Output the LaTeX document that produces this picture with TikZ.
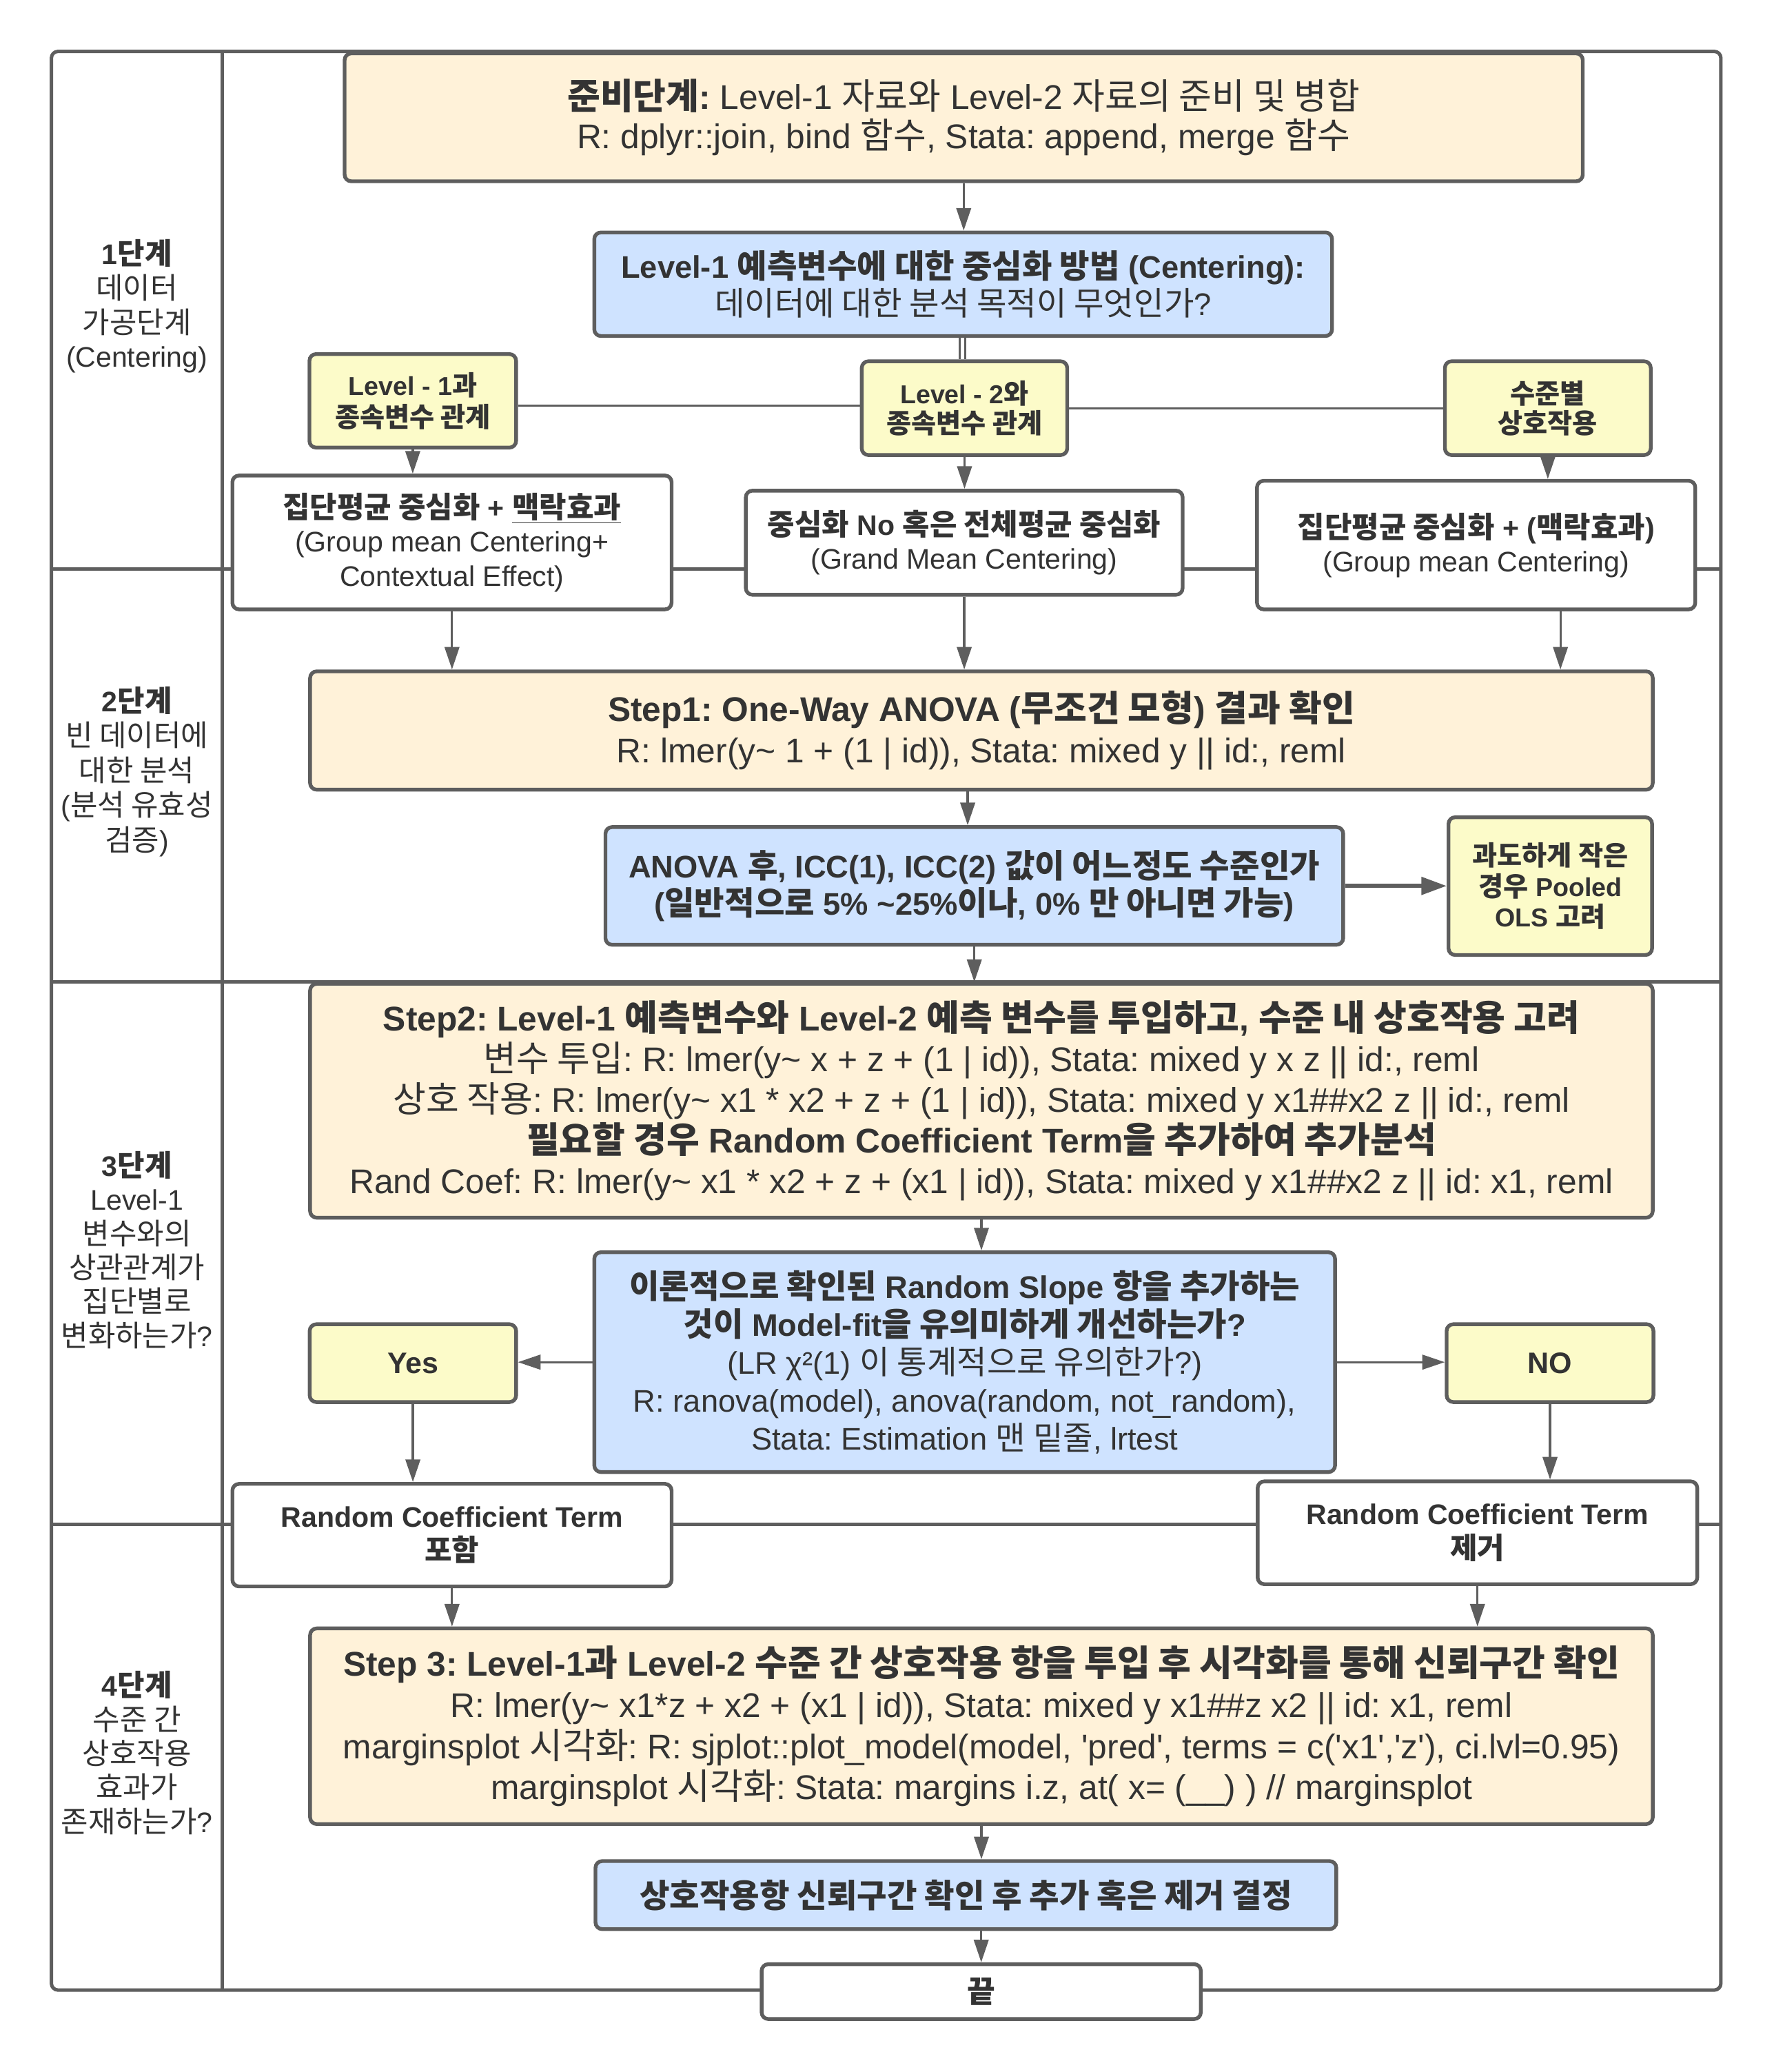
\documentclass[tikz,border=0pt]{standalone}
\usepackage{fontspec}
\setmainfont{Liberation Sans}[Ligatures=TeXOff]
\newfontfamily\krfont{Noto Sans CJK KR}[Scale=1.045]
\usetikzlibrary{arrows.meta}
\newcommand\K[1]{{\krfont #1}}
\definecolor{lc}{HTML}{5E5E5E}
\definecolor{tc}{HTML}{333333}
\definecolor{creamc}{HTML}{FFF2D9}
\definecolor{bluec}{HTML}{CFE3FF}
\definecolor{yelc}{HTML}{FCFBC9}
\tikzset{
  bx/.style={draw=lc, line width=2.8pt, rounded corners=5pt, inner sep=0pt, align=center, text=tc},
  creamb/.style={bx, fill=creamc},
  blueb/.style={bx, fill=bluec},
  yelb/.style={bx, fill=yelc},
  whiteb/.style={bx, fill=white},
  frm/.style={draw=lc, line width=2.6pt},
  conn/.style={draw=lc, line width=1.7pt},
  arr/.style={conn, -{Triangle[length=17pt,width=11pt]}},
  lbl/.style={align=center, text=tc, inner sep=0pt},
}
\newcommand\fbig[1]{\frenchspacing\fontsize{25.8}{#1}\selectfont}
\newcommand\fblu[1]{\frenchspacing\fontsize{23.5}{#1}\selectfont}
\newcommand\fmid[1]{\frenchspacing\fontsize{21.3}{#1}\selectfont}
\newcommand\fsml[1]{\frenchspacing\fontsize{19.5}{#1}\selectfont}
\newcommand\tld{\textasciitilde}
\begin{document}
\begin{tikzpicture}[x=1pt,y=-1pt]
\useasboundingbox (0,0) rectangle (1335.8,1560);
% frame and lanes
\coordinate (ftl) at (38.7,38.7);
\coordinate (fbr) at (1295.8,1498.3);
\draw[frm] (38.7,428.4) -- (1295.8,428.4);
\draw[frm] (38.7,739.1) -- (1295.8,739.1);
\draw[frm] (38.7,1147.7) -- (1295.8,1147.7);
\draw[frm] (167.5,38.7) -- (167.5,1498.3);
\draw[frm, rounded corners=5pt] (ftl) rectangle (fbr);
% lane labels
\node[lbl, font=\fmid{25.8}] (r1) at (103.1,230.6) {\textbf{1\K{단계}}\\\K{데이터}\\\K{가공단계}\\(Centering)};
\node[lbl, font=\fmid{26.2}] (r2) at (103.1,580.9) {\textbf{2\K{단계}}\\\K{빈 데이터에}\\\K{대한 분석}\\(\K{분석 유효성}\\\K{검증})};
\node[lbl, font=\fmid{25.6}] (r3) at (103.1,941) {\textbf{3\K{단계}}\\Level-1\\\K{변수와의}\\\K{상관관계가}\\\K{집단별로}\\\K{변화하는가}?};
\node[lbl, font=\fmid{25.6}] (r4) at (103.1,1319.8) {\textbf{4\K{단계}}\\\K{수준 간}\\\K{상호작용}\\\K{효과가}\\\K{존재하는가}?};
% boxes
\node[creamb, minimum width=932.3pt, minimum height=96.3pt, font=\fbig{30}] (prep) at (725.65,88.35) {\textbf{\K{준비단계}:} Level-1 \K{자료와} Level-2 \K{자료의 준비 및 병합}\\R: dplyr::join, bind \K{함수}, Stata: append, merge \K{함수}};
\node[blueb, minimum width=555.5pt, minimum height=78pt, font=\fblu{28.4}] (b1) at (725.25,214) {\textbf{Level-1 \K{예측변수에 대한 중심화 방법} (Centering):}\\\K{데이터에 대한 분석 목적이 무엇인가}?};
\node[yelb, minimum width=155.6pt, minimum height=70.4pt, font=\fsml{24}] (L1) at (310.8,301.8) {\textbf{Level - 1\K{과}}\\\textbf{\K{종속변수 관계}}};
\node[yelb, minimum width=154.7pt, minimum height=70.6pt, font=\fsml{22.5}] (L2) at (726.25,307.3) {\textbf{Level - 2\K{와}}\\\textbf{\K{종속변수 관계}}};
\node[yelb, minimum width=155pt, minimum height=70.6pt, font=\fsml{22.5}] (SJ) at (1165.5,307.3) {\textbf{\K{수준별}}\\\textbf{\K{상호작용}}};
\node[whiteb, minimum width=330.7pt, minimum height=100.8pt, font=\fmid{25.6}] (GM1) at (340.35,408.4) {\textbf{\K{집단평균 중심화} + \underline{\K{맥락효과}}}\\(Group mean Centering+\\Contextual Effect)};
\node[whiteb, minimum width=328.9pt, minimum height=78.4pt, font=\fmid{25.3}] (GR) at (726.05,408.6) {\textbf{\K{중심화} No \K{혹은 전체평균 중심화}}\\(Grand Mean Centering)};
\node[whiteb, minimum width=330pt, minimum height=96.8pt, font=\fmid{25.3}] (GM2) at (1111.5,410.4) {\textbf{\K{집단평균 중심화} + (\K{맥락효과})}\\(Group mean Centering)};
\node[creamb, minimum width=1011pt, minimum height=89.1pt, font=\fbig{31.4}] (S1) at (739,550) {\textbf{Step1: One-Way ANOVA (\K{무조건 모형}) \K{결과 확인}}\\R: lmer(y\tld{} 1 + (1 | id)), Stata: mixed y || id:, reml};
\node[blueb, minimum width=555.5pt, minimum height=88.6pt, font=\fblu{27.8}] (AN) at (733.65,667) {\textbf{ANOVA \K{후}, ICC(1), ICC(2) \K{값이 어느정도 수준인가}}\\\textbf{(\K{일반적으로} 5\% \tld25\%\K{이나}, 0\% \K{만 아니면 가능})}};
\node[yelb, minimum width=153.3pt, minimum height=103.7pt, font=\fsml{23.2}] (PO) at (1167.35,667.15) {\textbf{\K{과도하게 작은}}\\\textbf{\K{경우} Pooled}\\\textbf{OLS \K{고려}}};
\node[creamb, minimum width=1011pt, minimum height=176.1pt, font=\fbig{30.6}] (S2) at (739,828.75) {\textbf{Step2: Level-1 \K{예측변수와} Level-2 \K{예측 변수를 투입하고}, \K{수준 내 상호작용 고려}}\\\K{변수 투입}: R: lmer(y\tld{} x + z + (1 | id)), Stata: mixed y x z || id:, reml\\\K{상호 작용}: R: lmer(y\tld{} x1 * x2 + z + (1 | id)), Stata: mixed y x1\#\#x2 z || id:, reml\\\textbf{\K{필요할 경우} Random Coefficient Term\K{을 추가하여 추가분석}}\\Rand Coef: R: lmer(y\tld{} x1 * x2 + z + (x1 | id)), Stata: mixed y x1\#\#x2 z || id: x1, reml};
\node[blueb, minimum width=557.8pt, minimum height=165.5pt, font=\fblu{28.6}] (b2) at (726.4,1025.55) {\textbf{\K{이론적으로 확인된} Random Slope \K{항을 추가하는}}\\\textbf{\K{것이} Model-fit\K{을 유의미하게 개선하는가}?}\\(LR χ²(1) \K{이 통계적으로 유의한가}?)\\R: ranova(model), anova(random, not\_random),\\Stata: Estimation \K{맨 밑줄}, lrtest};
\node[yelb, minimum width=155.4pt, minimum height=58.6pt, font=\fontsize{22.3}{26}\selectfont] (YES) at (310.9,1026.3) {\textbf{Yes}};
\node[yelb, minimum width=155.7pt, minimum height=58.6pt, font=\fontsize{22.3}{26}\selectfont] (NO) at (1167.15,1026.3) {\textbf{NO}};
\node[whiteb, minimum width=330.7pt, minimum height=77.2pt, font=\fmid{25.6}] (RC1) at (340.35,1155.8) {\textbf{Random Coefficient Term}\\\textbf{\K{포함}}};
\node[whiteb, minimum width=331pt, minimum height=77.4pt, font=\fmid{25.6}] (RC2) at (1112.5,1154) {\textbf{Random Coefficient Term}\\\textbf{\K{제거}}};
\node[creamb, minimum width=1011pt, minimum height=147.3pt, font=\fbig{31}] (S3) at (739,1299.65) {\textbf{Step 3: Level-1\K{과} Level-2 \K{수준 간 상호작용 항을 투입 후 시각화를 통해 신뢰구간 확인}}\\R: lmer(y\tld{} x1*z + x2 + (x1 | id)), Stata: mixed y x1\#\#z x2 || id: x1, reml\\marginsplot \K{시각화}: R: sjplot::plot\_model(model, 'pred', terms = c('x1','z'), ci.lvl=0.95)\\marginsplot \K{시각화}: Stata: margins i.z, at( x= (\_\_) ) // marginsplot};
\node[blueb, minimum width=557.8pt, minimum height=51.2pt, font=\fblu{28}] (b3) at (727.3,1426.8) {\textbf{\K{상호작용항 신뢰구간 확인 후 추가 혹은 제거 결정}}};
\node[whiteb, minimum width=330.7pt, minimum height=41.3pt, font=\fontsize{22}{26}\selectfont] (END) at (738.85,1499.45) {\textbf{\K{끝}}};
% connectors
\draw[arr] (prep.south) -- (prep.south |- b1.north);
\draw[conn] ([xshift=-2.5pt]b1.south) -- ([xshift=-2.5pt]b1.south |- L2.north);
\draw[conn] ([xshift=1.5pt]b1.south) -- ([xshift=1.5pt]b1.south |- L2.north);
\draw[conn] ([yshift=2pt]L2.west) -- ([yshift=2pt]L2.west -| L1.east);
\draw[conn] (L2.east) -- (L2.east -| SJ.west);
\draw[arr] (L1.south) -- (L1.south |- GM1.north);
\draw[arr] (L2.south) -- (L2.south |- GR.north);
\draw[arr] (SJ.south) -- (SJ.south |- GM2.north);
\draw[arr] (GM1.south) -- (GM1.south |- S1.north);
\draw[arr] (GR.south) -- (GR.south |- S1.north);
\draw[arr] ([xshift=63.5pt]GM2.south) -- ([xshift=63.5pt]GM2.south |- S1.north);
\draw[arr] ([xshift=-5pt]AN.north |- S1.south) -- ([xshift=-5pt]AN.north);
\draw[draw=lc, line width=3pt, -{Triangle[length=19pt,width=13pt]}] (AN.east) -- (AN.east -| PO.west);
\draw[arr] (AN.south) -- (AN.south |- S2.north);
\draw[arr] (S2.south) -- (S2.south |- b2.north);
\draw[arr] (b2.west) -- (b2.west -| YES.east);
\draw[arr] (b2.east) -- (b2.east -| NO.west);
\draw[arr] (YES.south) -- (YES.south |- RC1.north);
\draw[arr] (NO.south) -- (NO.south |- RC2.north);
\draw[arr] (RC1.south) -- (RC1.south |- S3.north);
\draw[arr] (RC2.south) -- (RC2.south |- S3.north);
\draw[arr] (S3.south) -- (S3.south |- b3.north);
\draw[arr] (END.north |- b3.south) -- (END.north);
\end{tikzpicture}
\end{document}
